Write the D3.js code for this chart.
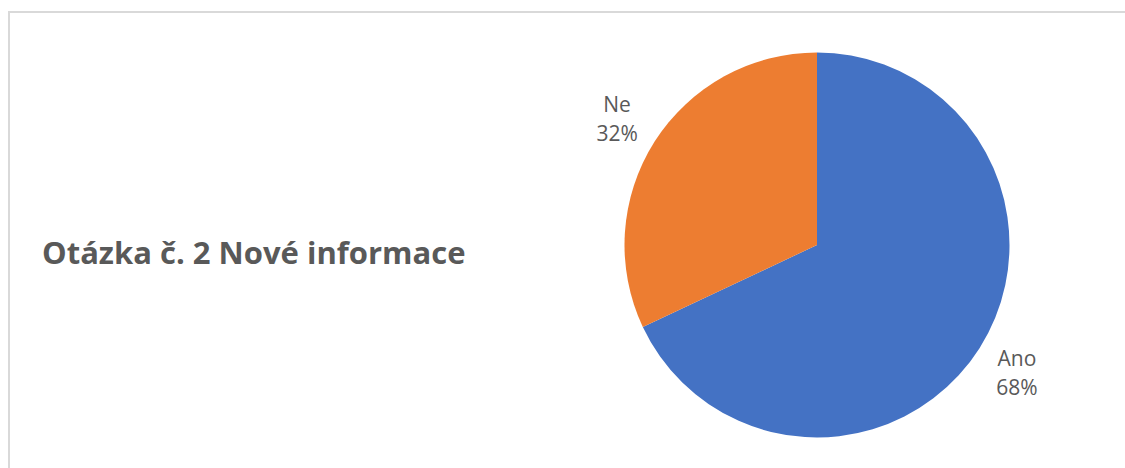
<!DOCTYPE html>
<html>
<head>
<meta charset="utf-8">
<script src="https://cdn.jsdelivr.net/npm/d3@7"></script>
<style>
  body { margin: 0; background: #fff; }
  svg { display: block; }
</style>
</head>
<body>
<div id="chart"></div>
<script>
const width = 1125;
const height = 468;

// data
const categories = ['Ano', 'Ne'];
const values = [68, 32];
const colors = ['#4472C4', '#ED7D31'];
const title = 'Otázka č. 2 Nové informace';

const svg = d3.select('#chart')
    .append('svg')
    .attr('width', width)
    .attr('height', height);

// chart area border (only top and left edges fall inside the picture)
svg.append('rect')
    .attr('x', 9)
    .attr('y', 12)
    .attr('width', width + 20)
    .attr('height', height + 20)
    .attr('fill', 'none')
    .attr('stroke', '#d9d9d9')
    .attr('stroke-width', 2);

svg.append('text')
    .attr('x', 42)
    .attr('y', 264)
    .attr('font-family', 'Open Sans, sans-serif')
    .attr('font-weight', 'bold')
    .attr('font-size', 31)
    .attr('fill', '#595959')
    .text(title);

const cx = 817, cy = 245, radius = 192.5;

const pie = d3.pie().sort(null).value(d => d.value);
const arc = d3.arc().innerRadius(0).outerRadius(radius);
const data = categories.map((c, i) => ({ name: c, value: values[i], color: colors[i] }));
const arcs = pie(data);

const g = svg.append('g').attr('transform', `translate(${cx},${cy})`);

g.selectAll('path')
    .data(arcs)
    .enter()
    .append('path')
    .attr('d', arc)
    .attr('fill', d => d.data.color);

// labels sit outside the pie, roughly where Excel put them
const labelR = radius * 1.23;
const labelArc = d3.arc().innerRadius(labelR).outerRadius(labelR);
const total = d3.sum(values);

const labels = g.selectAll('text.lbl')
    .data(arcs)
    .enter()
    .append('text')
    .attr('class', 'lbl')
    .attr('text-anchor', 'middle')
    .attr('font-family', 'Open Sans, sans-serif')
    .attr('font-size', 21)
    .attr('fill', '#595959')
    .attr('transform', d => {
        const [x, y] = labelArc.centroid(d);
        return `translate(${x},${y})`;
    });

labels.append('tspan')
    .attr('x', 0)
    .attr('dy', -6)
    .text(d => d.data.name);
labels.append('tspan')
    .attr('x', 0)
    .attr('dy', 29)
    .text(d => Math.round(d.data.value / total * 100) + '%');
</script>
</body>
</html>
